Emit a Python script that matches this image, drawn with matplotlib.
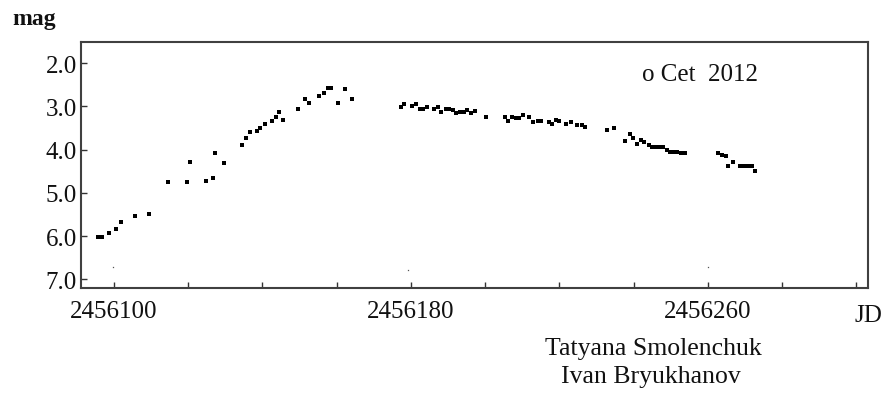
import numpy as np
import matplotlib
matplotlib.use('Agg')
import matplotlib.pyplot as plt

plt.rcParams['font.family'] = ['Liberation Serif', 'DejaVu Serif']

# o Cet observations (JD - 2456000, visual magnitude)
jd = [95.6, 96.7, 98.7, 100.6, 101.8, 105.7, 109.5, 114.6, 119.7, 120.4,
      124.7, 126.6, 127.3, 129.6, 134.4, 135.5, 136.7, 138.6, 139.4, 140.6,
      142.6, 143.7, 144.4, 145.6, 149.5, 151.5, 152.6, 155.3, 156.5, 157.6,
      158.4, 160.4, 162.3, 164.2,
      177.3, 178.2, 180.4, 181.3, 182.4, 183.2, 184.4, 186.3, 187.4, 188.2,
      189.5, 190.3, 191.3, 192.2, 193.3, 194.2, 195.2, 196.3, 197.3, 200.2,
      205.3, 206.1, 207.3, 208.2, 209.2, 210.3, 211.9, 213.0, 214.2, 215.1,
      217.2, 218.0, 219.1, 220.0, 221.9, 223.1, 224.9, 226.1, 227.0, 232.8,
      234.8, 237.8, 239.0, 239.8, 240.9, 242.0, 242.8, 244.1, 245.0, 245.9,
      247.0, 248.0, 249.0, 249.9, 250.9, 251.8, 252.9, 253.8,
      262.8, 263.8, 264.9, 265.6, 266.9, 268.7, 269.7, 270.8, 271.8, 272.7]
mag = [6.02, 6.02, 5.92, 5.83, 5.67, 5.53, 5.50, 4.76, 4.76, 4.28,
       4.72, 4.66, 4.08, 4.31, 3.89, 3.73, 3.60, 3.57, 3.50, 3.40,
       3.34, 3.24, 3.14, 3.31, 3.05, 2.82, 2.92, 2.76, 2.69, 2.57,
       2.57, 2.92, 2.60, 2.82,
       3.02, 2.95, 2.98, 2.95, 3.06, 3.06, 3.02, 3.06, 3.02, 3.12,
       3.05, 3.05, 3.09, 3.15, 3.12, 3.12, 3.08, 3.15, 3.11, 3.25,
       3.24, 3.34, 3.24, 3.28, 3.28, 3.20, 3.24, 3.37, 3.34, 3.34,
       3.37, 3.41, 3.31, 3.34, 3.41, 3.37, 3.44, 3.44, 3.47, 3.54,
       3.50, 3.79, 3.64, 3.73, 3.86, 3.78, 3.83, 3.89, 3.95, 3.95,
       3.95, 3.95, 4.02, 4.05, 4.05, 4.05, 4.08, 4.08,
       4.08, 4.12, 4.15, 4.37, 4.28, 4.37, 4.37, 4.37, 4.37, 4.50]

# faint specks near the bottom
jd_faint = [99.6, 179.1, 260.0]
mag_faint = [6.72, 6.78, 6.71]

x = 2456000 + np.array(jd)
xf = 2456000 + np.array(jd_faint)

fig = plt.figure(figsize=(8.88, 4.06), dpi=100)
ax = fig.add_axes([0.0912, 0.2882, 0.8863, 0.6071])

ax.plot(x, mag, 's', color='black', ms=2.2, mew=0)
ax.plot(xf, mag_faint, 's', color='#555555', ms=0.9, mew=0)

ax.set_xlim(2456091.1, 2456303.2)
ax.set_ylim(7.2, 1.5)

ax.set_yticks([2, 3, 4, 5, 6, 7])
ax.set_yticklabels(['2.0', '3.0', '4.0', '5.0', '6.0', '7.0'])
ax.set_xticks([2456100, 2456180, 2456260])
ax.set_xticklabels(['2456100', '2456180', '2456260'])
ax.set_xticks([2456120, 2456140, 2456160, 2456200, 2456220, 2456240,
               2456280, 2456300], minor=True)

ax.tick_params(axis='both', which='both', direction='in', color='#333333',
               width=1.0, labelsize=18, labelcolor='#111111')
ax.tick_params(axis='y', length=4, pad=3)
ax.tick_params(axis='x', which='both', length=4, pad=9)

for sp in ax.spines.values():
    sp.set_color('#404040')
    sp.set_linewidth(1.5)

fig.text(34 / 888, 1 - 19 / 406, 'mag', fontsize=17, fontweight='bold',
         ha='center', va='center', color='#111111')
fig.text(700 / 888, 1 - 75 / 406, 'o Cet  2012', fontsize=18,
         ha='center', va='center', color='#111111')
fig.text(868 / 888, 1 - 316 / 406, 'JD', fontsize=18,
         ha='center', va='center', color='#111111')
fig.text(653 / 888, 1 - 349 / 406, 'Tatyana Smolenchuk', fontsize=18.5,
         ha='center', va='center', color='#111111')
fig.text(651 / 888, 1 - 377 / 406, 'Ivan Bryukhanov', fontsize=18.5,
         ha='center', va='center', color='#111111')

fig.savefig('out.png', dpi=100)
